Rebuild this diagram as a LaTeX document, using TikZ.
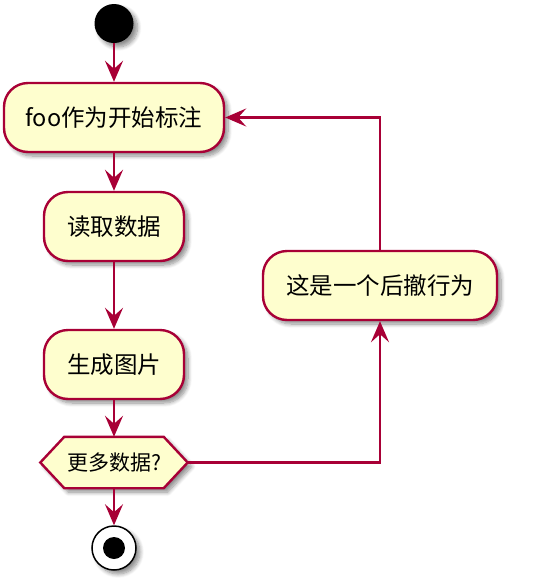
\documentclass[tikz,border=0pt]{standalone}
\usepackage{fontspec}
\setmainfont{Noto Sans CJK SC}
\usetikzlibrary{arrows.meta,calc,shadows.blur}
\definecolor{umlborder}{HTML}{A80036}
\definecolor{umlfill}{HTML}{FEFECE}
\tikzset{
  softshadow/.style={blur shadow={shadow xshift=4pt,shadow yshift=-4pt,shadow blur steps=8,shadow blur radius=4pt,shadow opacity=45}},
  actbox/.style={draw=umlborder,fill=umlfill,line width=2.4pt,rounded corners=24pt,
    minimum height=69pt,inner sep=0pt,font=\fontsize{23.5}{28}\selectfont,softshadow},
  flow/.style={draw=umlborder,line width=2.2pt,-{Stealth[length=21pt,width=18pt,inset=8pt]}},
}
\begin{document}
\begin{tikzpicture}[x={(1pt,0)},y={(0,-1pt)}]
\useasboundingbox (0,0) rectangle (546,582);
% start point
\node[circle,fill=black,minimum size=39pt,inner sep=0pt,softshadow] (start) at (114,23.5) {};
% activities
\node[actbox,minimum width=220pt] (mark) at (114,117.5) {foo作为开始标注};
\node[actbox,minimum width=140pt] (read) at (114,226.5) {读取数据};
\node[actbox,minimum width=140pt] (gen) at (114,364.5) {生成图片};
\node[actbox,minimum width=234pt] (back) at (380,285.5) {这是一个后撤行为};
% decision hexagon
\node[minimum width=147pt,minimum height=51pt,inner sep=0pt] (more) at (114,462.5) {};
\path[draw=umlborder,fill=umlfill,line width=2.4pt,line join=miter,softshadow]
  (more.west) -- ($(more.north west)+(24,0)$) -- ($(more.north east)+(-24,0)$)
  -- (more.east) -- ($(more.south east)+(-24,0)$) -- ($(more.south west)+(24,0)$) -- cycle;
\node[font=\fontsize{21}{25}\selectfont] at (more) {更多数据?};
% stop point
\node[circle,draw=black,line width=1.5pt,fill=white,minimum size=44pt,inner sep=0pt,softshadow] (stop) at (114,548) {};
\node[circle,fill=black,minimum size=22pt,inner sep=0pt] (stopdot) at (stop) {};
% connectors
\path[flow] (start) -- (mark);
\path[flow] (mark) -- (read);
\path[flow] (read) -- (gen);
\path[flow] (gen) -- (more);
\path[flow] (more) -- (stop);
\path[flow] (more.east) -| (back.south);
\path[flow] (back.north) |- (mark.east);
\end{tikzpicture}
\end{document}
